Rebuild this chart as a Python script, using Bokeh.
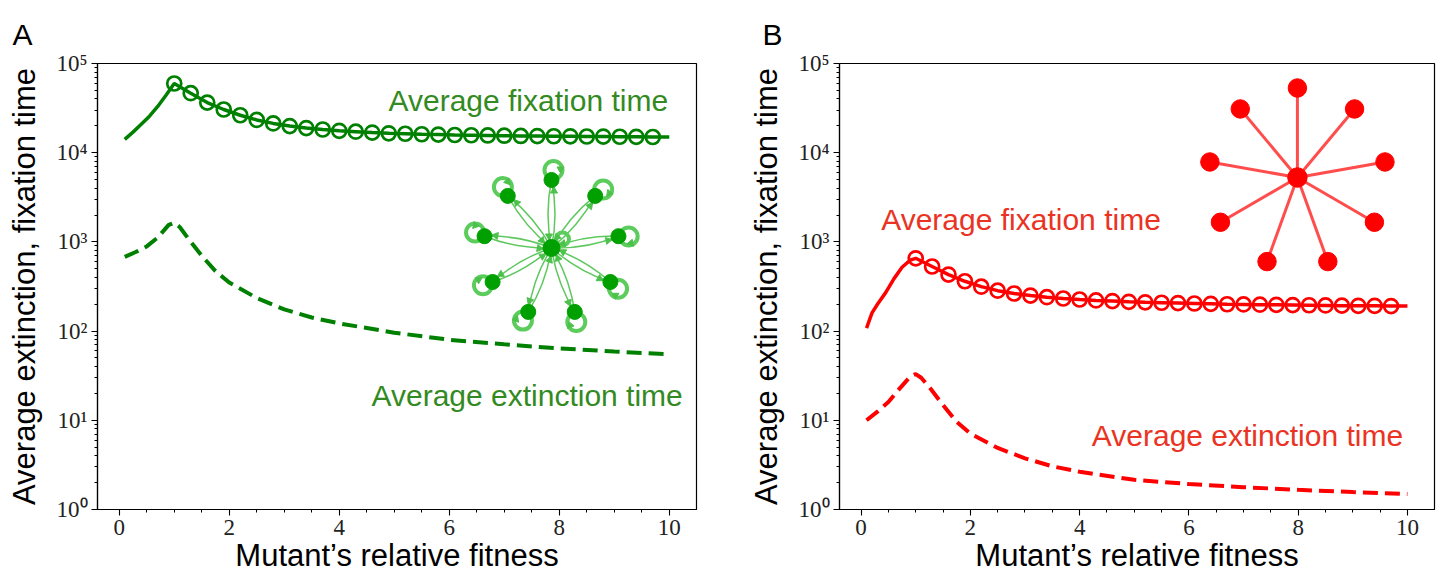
import math
from bokeh.plotting import figure
from bokeh.models import Range1d, LinearScale, FixedTicker, Title
from bokeh.layouts import row
from bokeh.embed import file_html
from bokeh.resources import INLINE
from bokeh.core.properties import value

# ---------------- data ----------------
circle_x = [1.0, 1.3, 1.6, 1.9, 2.2, 2.5, 2.8, 3.1, 3.4, 3.7, 4.0, 4.3, 4.6, 4.9, 5.2,
            5.5, 5.8, 6.1, 6.4, 6.7, 7.0, 7.3, 7.6, 7.9, 8.2, 8.5, 8.8, 9.1, 9.4, 9.7]

# Panel A (green)
fixA_rise_x = [0.1, 0.25, 0.4, 0.55, 0.7, 0.85]
fixA_rise = [14100, 17000, 20800, 25700, 33000, 44000]
fixA_circles = [59700, 46500, 36500, 30500, 26300, 23300, 21300, 19900, 18900, 18200,
                17600, 17200, 16800, 16500, 16300, 16100, 15950, 15800, 15700, 15600,
                15500, 15400, 15350, 15300, 15250, 15200, 15150, 15100, 15050, 15000]
fixA_end_x = [10.0]
fixA_end = [15000]

ext_x = [0.1, 0.3, 0.5, 0.7, 0.9, 1.0, 1.1, 1.25, 1.5, 1.75, 2.0, 2.5, 3.0, 3.5, 4.0,
         5.0, 6.0, 7.0, 8.0, 9.0, 10.0]
extA = [680, 770, 890, 1120, 1550, 1640, 1470, 1100, 700, 470, 350, 235, 175, 142, 122,
        96, 80, 71, 64, 59, 55]

# Panel B (red)
fixB_rise_x = [0.1, 0.2, 0.3, 0.45, 0.6, 0.75, 0.9]
fixB_rise = [108, 160, 200, 270, 385, 520, 625]
fixB_circles = [655, 530, 430, 362, 315, 284, 264, 250, 240, 232, 226, 221, 217, 213, 210,
                208, 206, 204, 202, 200, 199, 198, 197, 196, 195, 194, 193, 192, 192, 191]
fixB_end_x = [10.0]
fixB_end = [191]

extB = [10, 12.5, 16, 22.5, 31, 33, 30, 23.5, 14.8, 9.6, 7.1, 4.9, 3.75, 3.05, 2.65,
        2.15, 1.93, 1.78, 1.66, 1.57, 1.49]

x_ticks = [0, 2, 4, 6, 8, 10]
x_minor = [0.5 * i for i in range(0, 21)]
y_ticks = [1, 10, 100, 1000, 10000, 100000]
y_tick_labels = ["10⁰", "10¹", "10²", "10³", "10⁴", "10⁵"]
y_minor = [m * d for d in [1, 10, 100, 1000, 10000] for m in range(2, 10)]

x_title = "Mutant’s relative fitness"
y_title = "Average extinction, fixation time"
fix_label = "Average fixation time"
ext_label = "Average extinction time"

FRAME_W, FRAME_H = 599, 446
SANS = "Liberation Sans"
SERIF = "Liberation Serif"


def base_panel(width, border_left, border_right, letter):
    p = figure(width=width, height=575, y_axis_type="log",
               x_range=Range1d(-0.395, 10.495), y_range=Range1d(1, 1e5),
               output_backend="svg", toolbar_location=None,
               min_border_left=border_left, min_border_right=border_right,
               min_border_top=63, min_border_bottom=66)
    p.title = Title(text=letter, align="left", offset=-(border_left - 12),
                    vertical_align="top",
                    text_font=SANS, text_font_size="30px", text_font_style="normal",
                    text_color="black", standoff=22)
    p.extra_x_ranges = {"inset": Range1d(0, FRAME_W)}
    p.extra_y_ranges = {"inset": Range1d(FRAME_H, 0)}
    p.extra_x_scales = {"inset": LinearScale()}
    p.extra_y_scales = {"inset": LinearScale()}
    p.grid.visible = False
    p.outline_line_color = "black"
    p.outline_line_width = 1.2
    p.background_fill_color = "white"
    p.border_fill_color = "white"

    p.xaxis.ticker = FixedTicker(ticks=x_ticks, minor_ticks=x_minor)
    p.yaxis.ticker = FixedTicker(ticks=y_ticks, minor_ticks=y_minor)
    p.yaxis.major_label_overrides = {t: s for t, s in zip(y_ticks, y_tick_labels)}
    for ax in (p.xaxis[0], p.yaxis[0]):
        ax.axis_line_color = "black"
        ax.axis_line_width = 1.2
        ax.major_tick_in = 0
        ax.major_tick_out = 6
        ax.minor_tick_in = 0
        ax.minor_tick_out = 3
        ax.major_tick_line_width = 1.1
        ax.minor_tick_line_width = 1.0
        ax.major_label_text_font = SERIF
        ax.major_label_text_font_size = "23px"
        ax.major_label_text_color = "#222222"
        ax.axis_label_text_font = SANS
        ax.axis_label_text_font_size = "31px"
        ax.axis_label_text_font_style = "normal"
        ax.axis_label_text_color = "black"
    p.xaxis.major_label_standoff = 4
    p.xaxis.major_label_text_line_height = 0.6
    p.xaxis.axis_label_text_line_height = 0.5
    p.yaxis.major_label_standoff = 4
    p.yaxis.axis_label = y_title
    p.yaxis.axis_label_standoff = 11
    p.xaxis.axis_label = x_title
    p.xaxis.axis_label_standoff = 0
    return p


def draw_curves(p, color, rise_x, rise, circles, end_x, end, ext):
    line_x = rise_x + circle_x + end_x
    line_y = rise + circles + end
    p.line(line_x, line_y, line_color=color, line_width=3.5)
    p.scatter(circle_x, circles, marker="circle", size=14, fill_color=None,
              line_color=color, line_width=2.7)
    p.line(ext_x, ext, line_color=color, line_width=4, line_dash="15 7")


def leaves(cx, cy, r, n=9):
    out = []
    for k in range(n):
        a = math.radians(90 - 40 * k)
        out.append((a, cx + r * math.cos(a), cy - r * math.sin(a)))
    return out


# ---------------- Panel A ----------------
pA = base_panel(746, 97, 50, "A")
draw_curves(pA, "#008000", fixA_rise_x, fixA_rise, fixA_circles, fixA_end_x, fixA_end, extA)
pA.text(x=[291, 274], y=[37, 332], text=[fix_label, ext_label],
        x_range_name="inset", y_range_name="inset",
        text_font=value(SANS), text_font_size="30px", text_color="#338a22",
        text_align="left", text_baseline="middle")

# green star inset (directed, with self loops)
gcx, gcy, gr = 454, 184.5, 68
edge_col = "#4cc24c"
loop_col = "#5ccc5c"
node_col = "#00a000"
lv = leaves(gcx, gcy, gr)
q = dict(x0=[], y0=[], x1=[], y1=[], cx=[], cy=[])
ah_x, ah_y, ah_ang = [], [], []
lp_x, lp_y = [], []
for a, lx, ly in lv:
    ux, uy = math.cos(a), -math.sin(a)
    nx, ny = -uy, ux
    mx, my = (gcx + lx) / 2, (gcy + ly) / 2
    for s in (1, -1):
        q["x0"].append(gcx); q["y0"].append(gcy)
        q["x1"].append(lx); q["y1"].append(ly)
        q["cx"].append(mx + s * 7 * nx); q["cy"].append(my + s * 7 * ny)
    ah_x.append(lx - ux * 11 + nx * 2.5); ah_y.append(ly - uy * 11 + ny * 2.5)
    ah_ang.append(math.atan2(-uy, ux) - math.pi / 2)
    ah_x.append(gcx + ux * 12 - nx * 2.5); ah_y.append(gcy + uy * 12 - ny * 2.5)
    ah_ang.append(math.atan2(uy, -ux) - math.pi / 2)
    lp_x.append(lx + ux * 10 + nx * 2); lp_y.append(ly + uy * 10 + ny * 2)
    ah_x.append(lx + ux * 11 + nx * 9); ah_y.append(ly + uy * 11 + ny * 9)
    ah_ang.append(math.atan2(-uy, ux) - math.pi / 2 + math.pi)

pA.quadratic(x0=q["x0"], y0=q["y0"], x1=q["x1"], y1=q["y1"], cx=q["cx"], cy=q["cy"],
             x_range_name="inset", y_range_name="inset", line_color=edge_col,
             line_width=1.5, line_alpha=0.9)
pA.circle(x=lp_x + [gcx + 11], y=lp_y + [gcy - 9], radius=[9] * len(lp_x) + [6.5],
          x_range_name="inset", y_range_name="inset", fill_color=None,
          line_color=loop_col, line_width=4)
pA.scatter(x=ah_x, y=ah_y, angle=ah_ang, marker="triangle", size=7,
           x_range_name="inset", y_range_name="inset", fill_color=edge_col,
           line_color=edge_col)
pA.circle(x=[l[1] for l in lv] + [gcx], y=[l[2] for l in lv] + [gcy],
          radius=[7.5] * 9 + [8.5], x_range_name="inset", y_range_name="inset",
          fill_color=node_col, line_color=node_col)

# ---------------- Panel B ----------------
pB = base_panel(692, 89, 4, "B")
draw_curves(pB, "#ff0000", fixB_rise_x, fixB_rise, fixB_circles, fixB_end_x, fixB_end, extB)
pB.text(x=[42, 254], y=[156, 372], text=[fix_label, ext_label],
        x_range_name="inset", y_range_name="inset",
        text_font=value(SANS), text_font_size="30px", text_color="#ea3323",
        text_align="left", text_baseline="middle")

rcx, rcy, rr = 461, 114, 89.5
rv = leaves(rcx, rcy, rr)
pB.segment(x0=[rcx] * 9, y0=[rcy] * 9, x1=[l[1] for l in rv], y1=[l[2] for l in rv],
           x_range_name="inset", y_range_name="inset", line_color="#ff4d4d",
           line_width=3)
pB.circle(x=[l[1] for l in rv] + [rcx], y=[l[2] for l in rv] + [rcy],
          radius=[9.3] * 9 + [9.8], x_range_name="inset", y_range_name="inset",
          fill_color="#ff0000", line_color="#ff0000")

layout = row(pA, pB)
open("out.html", "w").write(file_html(layout, INLINE))
